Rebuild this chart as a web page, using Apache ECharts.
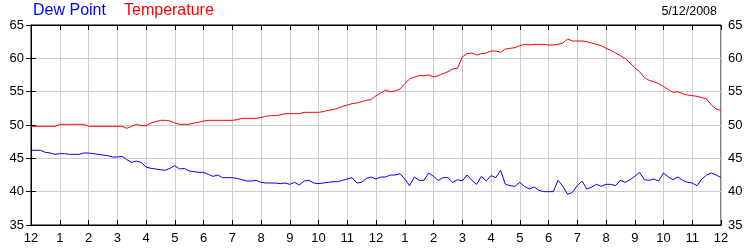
<!DOCTYPE html>
<html>
<head>
<meta charset="utf-8">
<script src="https://cdn.jsdelivr.net/npm/echarts@6/dist/echarts.min.js"></script>
<style>html,body{margin:0;padding:0;background:#fff;}#c{width:750px;height:250px;}</style>
</head>
<body>
<div id="c"></div>
<script>
// Readings every 10 minutes from 12 AM to 12 AM next day (145 points)
var stepMinutes = 10;
var hourTickLabels = ['12','1','2','3','4','5','6','7','8','9','10','11','12','1','2','3','4','5','6','7','8','9','10','11','12'];
var dewPoint = [
  46.2,46.2,46.2,45.9,45.8,45.6,
  45.7,45.7,45.6,45.6,45.6,45.8,
  45.8,45.7,45.6,45.5,45.4,45.2,
  45.2,45.3,44.8,44.4,44.6,44.4,
  43.7,43.5,43.4,43.3,43.2,43.5,
  43.9,43.4,43.5,43.1,43.0,42.9,
  42.9,42.6,42.3,42.5,42.1,42.1,
  42.1,42.0,41.8,41.6,41.6,41.7,
  41.4,41.3,41.3,41.3,41.2,41.3,
  41.1,41.4,41.0,41.6,41.7,41.3,
  41.2,41.3,41.4,41.5,41.5,41.7,
  41.9,42.1,41.3,41.4,42.0,42.2,
  41.9,42.2,42.2,42.5,42.5,42.7,
  41.9,40.9,42.2,41.7,41.7,42.8,
  42.3,41.7,42.1,42.1,41.4,41.8,
  41.6,42.5,41.7,41.1,42.3,41.6,
  42.4,42.1,43.2,41.1,40.9,40.8,
  41.4,40.8,40.4,40.7,40.2,40.0,
  40.0,40.0,41.7,40.8,39.6,39.9,
  40.9,41.6,40.4,40.7,41.1,40.8,
  41.1,41.1,40.9,41.7,41.4,41.8,
  42.3,42.9,41.8,41.7,41.9,41.6,
  42.8,42.2,41.8,42.2,41.7,41.4,
  41.3,40.9,41.9,42.5,42.8,42.5,
  42.1
];
var temperature = [
  49.8,49.8,49.8,49.8,49.8,49.8,
  50.1,50.1,50.1,50.1,50.1,50.1,
  49.8,49.8,49.8,49.8,49.8,49.8,
  49.8,49.8,49.5,49.8,50.1,49.9,
  49.9,50.3,50.5,50.7,50.7,50.6,
  50.3,50.1,50.1,50.1,50.3,50.4,
  50.6,50.7,50.7,50.7,50.7,50.7,
  50.7,50.8,51.0,51.0,51.0,51.0,
  51.1,51.3,51.4,51.4,51.5,51.7,
  51.7,51.7,51.7,51.9,51.9,51.9,
  51.9,52.0,52.2,52.3,52.5,52.8,
  53.0,53.2,53.3,53.5,53.7,53.8,
  54.4,54.8,55.2,55.0,55.1,55.4,
  56.2,56.9,57.2,57.4,57.4,57.5,
  57.2,57.4,57.7,58.0,58.4,58.5,
  60.2,60.7,60.8,60.5,60.7,60.8,
  61.1,61.1,60.9,61.4,61.5,61.6,
  61.9,62.1,62.0,62.1,62.1,62.1,
  62.0,62.0,62.1,62.3,62.9,62.6,
  62.6,62.6,62.5,62.3,62.1,61.9,
  61.5,61.2,60.8,60.4,60.0,59.3,
  58.6,58.0,57.1,56.7,56.5,56.2,
  55.8,55.3,54.9,55.0,54.7,54.5,
  54.4,54.3,54.1,53.9,53.0,52.4,
  52.2
];
var yMin = 35, yMax = 65, yStep = 5;
var seriesNames = ['Dew Point', 'Temperature'];
var dateLabel = '5/12/2008';

function toPairs(arr){ return arr.map(function(v,i){ return [i*stepMinutes/60, v]; }); }

var font = 'Arial, "Liberation Sans", sans-serif';
var chart = echarts.init(document.getElementById('c'), null, {renderer:'canvas'});
var yAxisBase = function(pos){
  return {
    type:'value', position:pos, min:yMin, max:yMax, interval:yStep,
    axisLine:{show:true, lineStyle:{color:'#000', width:1}},
    axisTick:{show:true, inside:true, length:5, lineStyle:{color:'#000'}},
    axisLabel:{color:'#000', fontSize:13, fontFamily:font, margin:7},
    splitLine:{show: pos==='left', lineStyle:{color:'#cccccc', width:1}}
  };
};
chart.setOption({
  animation:false,
  backgroundColor:'#fff',
  title:[
    {text:seriesNames[0], left:33, top:3, padding:0, textStyle:{color:'#0000ff', fontSize:16, fontWeight:'normal', fontFamily:font}},
    {text:seriesNames[1], left:124, top:3, padding:0, textStyle:{color:'#ff0000', fontSize:16, fontWeight:'normal', fontFamily:font}},
    {text:dateLabel, right:33, top:5, padding:0, textStyle:{color:'#000', fontSize:12.5, fontWeight:'normal', fontFamily:font}}
  ],
  grid:{left:31, right:29, top:25, bottom:25, show:true, borderColor:'#000', borderWidth:1, containLabel:false},
  xAxis:[{
    type:'value', position:'bottom', min:0, max:24, interval:1,
    axisLine:{show:true, lineStyle:{color:'#000'}},
    axisTick:{show:true, inside:true, length:5, lineStyle:{color:'#000'}},
    axisLabel:{color:'#000', fontSize:13, fontFamily:font, margin:7, showMinLabel:true, showMaxLabel:true,
      formatter:function(v){ return hourTickLabels[Math.round(v)]; }},
    splitLine:{show:true, lineStyle:{color:'#cccccc', width:1}}
  },{
    type:'value', position:'top', min:0, max:24, interval:1,
    axisLine:{show:true, lineStyle:{color:'#000'}},
    axisTick:{show:true, inside:true, length:5, lineStyle:{color:'#000'}},
    axisLabel:{show:false}, splitLine:{show:false}
  }],
  yAxis:[yAxisBase('left'), yAxisBase('right')],
  series:[
    {name:seriesNames[0], type:'line', data:toPairs(dewPoint), showSymbol:false, symbol:'none',
     lineStyle:{color:'#0000ff', width:1}, itemStyle:{color:'#0000ff'}, z:3},
    {name:seriesNames[1], type:'line', data:toPairs(temperature), showSymbol:false, symbol:'none',
     lineStyle:{color:'#ff0000', width:1}, itemStyle:{color:'#ff0000'}, z:3}
  ]
});
</script>
</body>
</html>
